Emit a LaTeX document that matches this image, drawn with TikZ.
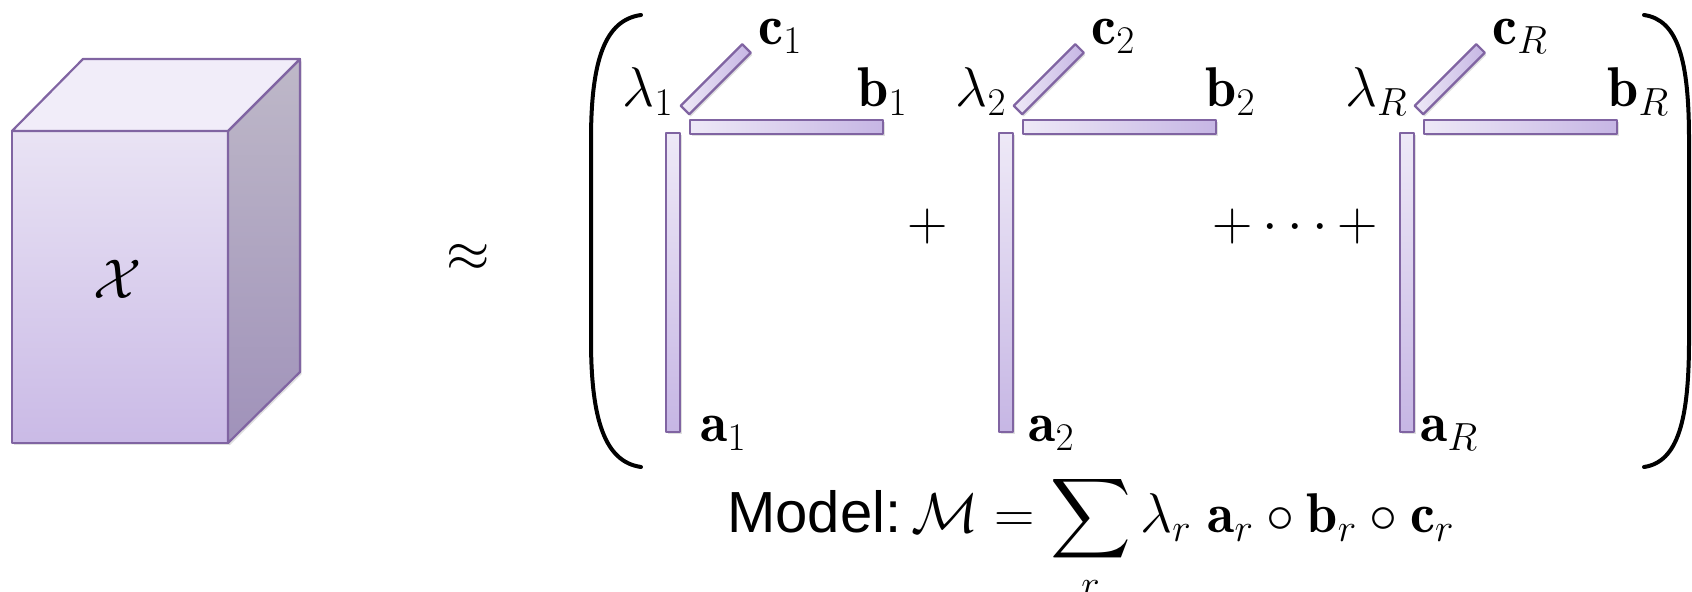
\RequirePackage{fix-cm}
\documentclass[tikz,border=0pt]{standalone}
\usepackage{fontspec}
\setsansfont{Liberation Sans}
\usetikzlibrary{shadows}
% scalable large symbols
\DeclareFontFamily{OMX}{cmex}{}
\DeclareFontShape{OMX}{cmex}{m}{n}{<-> cmex10}{}

\definecolor{barline}{RGB}{128,100,162}
\definecolor{barlight}{RGB}{238,233,247}
\definecolor{bardark}{RGB}{198,182,228}
\definecolor{cubefronttop}{RGB}{233,227,244}
\definecolor{cubefrontbot}{RGB}{202,186,230}
\definecolor{cubesidetop}{RGB}{190,184,200}
\definecolor{cubesidebot}{RGB}{160,146,186}
\definecolor{cubetopface}{RGB}{241,237,249}

\tikzset{
  bar/.style={draw=barline, line width=1.1pt, line join=round,
    drop shadow={opacity=0.25, shadow xshift=0.8pt, shadow yshift=-1.2pt}},
  lbl/.style={inner sep=0pt, font=\fontsize{28}{34}\selectfont},
  paren/.style={line width=2pt, line cap=round},
}

\begin{document}
\begin{tikzpicture}[x=0.5pt, y=-0.5pt]
   		\useasboundingbox (0,0) rectangle (1692,592);

   		% Tensor cube
   		\shade[bar, top color=cubefronttop, bottom color=cubefrontbot] (12,131) rectangle (228,443);
   		\shade[bar, top color=cubesidetop, bottom color=cubesidebot] (228,131) -- (300,59) -- (300,372) -- (228,443) -- cycle;
   		\fill[cubetopface, draw=barline, line width=1.1pt, line join=round] (12,131) -- (83,59) -- (300,59) -- (228,131) -- cycle;
   		\node[lbl] (tensor) at (118,279) {$\mathcal{X}$};

   		% Approximation sign
   		\node[lbl] (approx) at (468,258) {$\approx$};

   		% Big parentheses
   		\draw[paren] (641,15) .. controls (605,20) and (591,60) .. (591,140) -- (591,340) .. controls (591,420) and (605,462) .. (641,467);
   		\draw[paren] (1644,15) .. controls (1678,20) and (1689,60) .. (1689,140) -- (1689,340) .. controls (1689,420) and (1678,462) .. (1644,467);

   		% Rank-one components
   		\foreach \dx/\k/\bx/\ax in {0/1/857/700, 333/2/872/695, 734/R/873/686}{
   		  \begin{scope}[shift={(\dx,0)}]
   		    \shade[bar, top color=barlight, bottom color=bardark] (666,133) rectangle (680,432);
   		    \shade[bar, left color=barlight, right color=bardark] (690,120) rectangle (883,134);
   		    \shade[bar, left color=barlight, right color=bardark, shift={(685,110)}, rotate=45] (0,-6) rectangle (87,6);
   		    \node[lbl, anchor=base east] (lam\k) at (674,107) {$\lambda_\k$};
   		    \node[lbl, anchor=base west] (c\k) at (758,45) {$\mathbf{c}_\k$};
   		    \node[lbl, anchor=base west] (b\k) at (\bx,107) {$\mathbf{b}_\k$};
   		    \node[lbl, anchor=base west] (a\k) at (\ax,442) {$\mathbf{a}_\k$};
   		  \end{scope}
   		}

   		% Plus signs
   		\node[lbl] (plus) at (928,227) {$+$};
   		\node[lbl] (dots) at (1295,227) {$+\cdots+$};

   		% Model formula
   		\node[lbl, anchor=base west] (model) at (727,533) {{\sffamily\fontsize{29}{34}\selectfont Model:}\hspace{5pt}$\displaystyle \mathcal{M} = \sum_r \lambda_r\; \mathbf{a}_r \circ \mathbf{b}_r \circ \mathbf{c}_r$};

\end{tikzpicture}
\end{document}
